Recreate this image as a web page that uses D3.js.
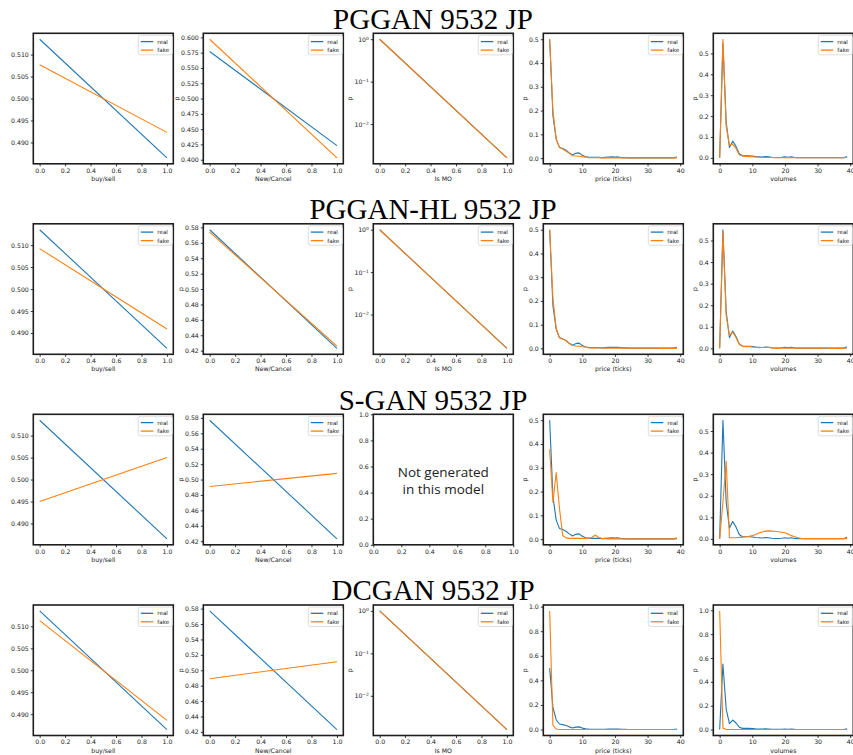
<!DOCTYPE html>
<html>
<head>
<meta charset="utf-8">
<script src="https://cdn.jsdelivr.net/npm/d3@7"></script>
<style>
  body { margin: 0; background: #fff; }
  svg { display: block; }
</style>
</head>
<body>
<div id="viz"></div>
<script>
// ---- data ----
const titles = ["PGGAN 9532 JP", "PGGAN-HL 9532 JP", "S-GAN 9532 JP", "DCGAN 9532 JP"]
const xLabels = ["buy/sell", "New/Cancel", "Is MO", "price (ticks)", "volumes"]
const seriesNames = ["real", "fake"]

const binaryX = [0, 1]
const countX = d3.range(40)

const buySellReal = [0.5135, 0.4865]
const buySellFake = [[0.5077, 0.4923], [0.5092, 0.4909], [0.4950, 0.5050], [0.5113, 0.4886]]

const newCancelReal = [0.577, 0.423]
const newCancelFake = [[0.597, 0.403], [0.574, 0.426], [0.491, 0.508], [0.489, 0.511]]

const isMoReal = [0.998, 0.0016]
const isMoFake = [[0.998, 0.0016], [0.998, 0.0016], null, [0.998, 0.0016]]

const priceReal = [0.500, 0.180, 0.080, 0.045, 0.040, 0.033, 0.022, 0.013, 0.020, 0.022,
                   0.012, 0.006, 0.004, 0.003, 0.003, 0.003, 0.002, 0.003, 0.004, 0.005,
                   0.004, 0.005, 0.002, 0.002, 0.001, 0.001, 0.001, 0.001, 0.001, 0.001,
                   0.001, 0.001, 0.001, 0.001, 0.001, 0.001, 0.001, 0.001, 0.001, 0.005]
const priceFakePGGAN = [0.500, 0.200, 0.080, 0.045, 0.038, 0.030, 0.020, 0.010, 0.009, 0.008,
                        0.006, 0.004, 0.002, 0.002, 0.002, 0.002, 0.001, 0.001, 0.001, 0.001,
                        0.001, 0.001, 0.001, 0.001, 0.001, 0.001, 0.001, 0.001, 0.001, 0.001,
                        0.001, 0.001, 0.001, 0.001, 0.001, 0.001, 0.001, 0.001, 0.001, 0.001]
const priceFakePGGANHL = [0.500, 0.210, 0.085, 0.045, 0.040, 0.032, 0.020, 0.012, 0.010, 0.009,
                          0.007, 0.006, 0.002, 0.002, 0.002, 0.002, 0.002, 0.001, 0.001, 0.001,
                          0.001, 0.001, 0.001, 0.001, 0.001, 0.001, 0.001, 0.001, 0.001, 0.001,
                          0.001, 0.001, 0.001, 0.001, 0.000, 0.000, 0.000, 0.000, 0.000, 0.001]
const priceFakeSGAN = [0.378, 0.154, 0.280, 0.130, 0.015, 0.005, 0.003, 0.003, 0.003, 0.003,
                       0.003, 0.003, 0.004, 0.008, 0.017, 0.007, 0.003, 0.002, 0.001, 0.001,
                       0.001, 0.001, 0.001, 0.001, 0.001, 0.001, 0.001, 0.001, 0.001, 0.001,
                       0.001, 0.001, 0.001, 0.001, 0.001, 0.001, 0.001, 0.001, 0.001, 0.001]
const priceFakeDCGAN = [0.965, 0.035, 0.004, 0.001, 0.001, 0.000, 0.000, 0.000, 0.000, 0.000,
                        0.000, 0.000, 0.000, 0.000, 0.000, 0.000, 0.000, 0.000, 0.000, 0.000,
                        0.000, 0.000, 0.000, 0.000, 0.000, 0.000, 0.000, 0.000, 0.000, 0.000,
                        0.000, 0.000, 0.000, 0.000, 0.000, 0.000, 0.000, 0.000, 0.000, 0.000]

const volumeReal = [0.000, 0.550, 0.170, 0.050, 0.080, 0.055, 0.020, 0.010, 0.010, 0.010,
                    0.009, 0.006, 0.005, 0.004, 0.006, 0.005, 0.003, 0.002, 0.002, 0.003,
                    0.005, 0.003, 0.005, 0.002, 0.001, 0.001, 0.001, 0.001, 0.001, 0.001,
                    0.001, 0.001, 0.001, 0.001, 0.001, 0.001, 0.001, 0.001, 0.001, 0.007]
const volumeFakePGGAN = [0.000, 0.568, 0.150, 0.060, 0.065, 0.045, 0.015, 0.009, 0.007, 0.006,
                         0.005, 0.004, 0.003, 0.002, 0.002, 0.002, 0.002, 0.001, 0.001, 0.001,
                         0.001, 0.001, 0.001, 0.001, 0.001, 0.001, 0.001, 0.001, 0.001, 0.001,
                         0.001, 0.001, 0.001, 0.001, 0.001, 0.001, 0.001, 0.001, 0.001, 0.002]
const volumeFakePGGANHL = [0.000, 0.540, 0.150, 0.060, 0.075, 0.050, 0.020, 0.010, 0.008, 0.008,
                           0.006, 0.005, 0.003, 0.004, 0.004, 0.005, 0.002, 0.001, 0.001, 0.001,
                           0.002, 0.001, 0.001, 0.001, 0.001, 0.001, 0.001, 0.001, 0.001, 0.001,
                           0.001, 0.001, 0.001, 0.001, 0.000, 0.000, 0.000, 0.000, 0.000, 0.002]
const volumeFakeSGAN = [0.000, 0.170, 0.360, 0.005, 0.005, 0.005, 0.007, 0.008, 0.010, 0.012,
                        0.015, 0.020, 0.027, 0.032, 0.036, 0.037, 0.036, 0.035, 0.033, 0.031,
                        0.028, 0.022, 0.015, 0.010, 0.005, 0.002, 0.001, 0.001, 0.001, 0.001,
                        0.001, 0.001, 0.001, 0.001, 0.001, 0.001, 0.001, 0.001, 0.001, 0.001]
const volumeFakeDCGAN = [0.995, 0.012, 0.002, 0.000, 0.000, 0.000, 0.000, 0.000, 0.000, 0.000,
                         0.000, 0.000, 0.000, 0.000, 0.000, 0.000, 0.000, 0.000, 0.000, 0.000,
                         0.000, 0.000, 0.000, 0.000, 0.000, 0.000, 0.000, 0.000, 0.000, 0.000,
                         0.000, 0.000, 0.000, 0.000, 0.000, 0.000, 0.000, 0.000, 0.000, 0.000]
const priceFake = [priceFakePGGAN, priceFakePGGANHL, priceFakeSGAN, priceFakeDCGAN]
const volumeFake = [volumeFakePGGAN, volumeFakePGGANHL, volumeFakeSGAN, volumeFakeDCGAN]

// tick labels
const unitTicks = [0, 0.2, 0.4, 0.6, 0.8, 1.0]
const countTicks = [0, 10, 20, 30, 40]
const buySellTicks = [0.490, 0.495, 0.500, 0.505, 0.510]
const newCancelTicksWide = [0.400, 0.425, 0.450, 0.475, 0.500, 0.525, 0.550, 0.575, 0.600]
const newCancelTicks = [0.42, 0.44, 0.46, 0.48, 0.50, 0.52, 0.54, 0.56, 0.58]
const logTicks = [1, 0.1, 0.01]
const probTicksHalf = [0, 0.1, 0.2, 0.3, 0.4, 0.5]
const probTicksFull = [0, 0.2, 0.4, 0.6, 0.8, 1.0]
const emptyNote = ["Not generated", "in this model"]

// ---- layout ----
const width = 853
const height = 755
const colLeft = [33.3, 203.3, 373.3, 543.3, 713.3]
const rowTop = [33.3, 223.8, 414.3, 605]
const rowTitleY = [28.5, 219, 409.5, 600]
const panelW = 140
const panelH = 130.5
const colors = ["#1f77b4", "#ff7f0e"]
const tickFont = "DejaVu Sans, sans-serif"

const svg = d3.select("#viz").append("svg").attr("width", width).attr("height", height)

const fmt3 = d3.format(".3f"), fmt2 = d3.format(".2f"), fmt1 = d3.format(".1f"), fmt0 = d3.format("d")

function pad(ext, m){
    const d = ext[1] - ext[0]
    return [ext[0] - m * d, ext[1] + m * d]
}

function styleAxis(ax){
    ax.select(".domain").remove()
    ax.selectAll(".tick line").attr("stroke", "#222").attr("stroke-width", 0.9)
    ax.selectAll(".tick text").attr("fill", "#1a1a1a").style("font-family", tickFont).style("font-size", "6.2px")
}

function drawPanel(row, col, cfg){
    const g = svg.append("g").attr("transform", `translate(${colLeft[col]},${rowTop[row]})`)
    let x, y
    if (cfg.empty) {
        x = d3.scaleLinear().domain([0, 1]).range([0, panelW])
        y = d3.scaleLinear().domain([0, 1]).range([panelH, 0])
    } else {
        x = d3.scaleLinear().domain(pad(d3.extent(cfg.xValues), 0.05)).range([0, panelW])
        const all = cfg.series.flatMap(s => s.values)
        if (cfg.log) {
            const e = pad(d3.extent(all, v => Math.log10(v)), 0.05)
            y = d3.scaleLog().domain([10 ** e[0], 10 ** e[1]]).range([panelH, 0])
        } else {
            y = d3.scaleLinear().domain(pad(d3.extent(all), 0.05)).range([panelH, 0])
        }
    }

    // data lines
    if (!cfg.empty) {
        cfg.series.forEach((s, i) => {
            const line = d3.line().x((d, j) => x(cfg.xValues[j])).y(d => y(d))
            g.append("path")
                .attr("d", line(s.values))
                .attr("fill", "none")
                .attr("stroke", colors[i])
                .attr("stroke-width", 1.1)
                .attr("stroke-linejoin", "round")
        })
    } else {
        const t = g.append("text")
            .attr("x", x(0.5)).attr("y", y(0.5))
            .attr("text-anchor", "middle")
            .style("font-family", "Open Sans, sans-serif").style("font-size", "13.5px").attr("fill", "#222")
        emptyNote.forEach((line, i) => {
            t.append("tspan").attr("x", x(0.5)).attr("dy", i === 0 ? "-0.2em" : "1.25em").text(line)
        })
    }

    // axes
    const xAxis = g.append("g").attr("transform", `translate(0,${panelH})`)
        .call(d3.axisBottom(x).tickValues(cfg.xTicks).tickFormat(cfg.xFormat).tickSize(2.5).tickPadding(2))
    styleAxis(xAxis)

    const yAxis = g.append("g")
    if (cfg.log) {
        const minor = []
        for (let p = -4; p <= 0; p++) for (let k = 2; k <= 9; k++) {
            const v = k * 10 ** p
            if (v > y.domain()[0] && v < y.domain()[1]) minor.push(v)
        }
        yAxis.append("g").call(d3.axisLeft(y).tickValues(minor).tickFormat("").tickSize(1.5))
        yAxis.call(d3.axisLeft(y).tickValues(cfg.yTicks).tickSize(2.5).tickPadding(2))
        yAxis.selectAll(".domain").remove()
        yAxis.selectAll(".tick text").text(null).each(function(d){
            const el = d3.select(this)
            el.append("tspan").text("10")
            const ex = Math.round(Math.log10(d))
            el.append("tspan").attr("dy", "-0.45em").style("font-size", "4.4px")
                .text(ex < 0 ? "\u2212" + (-ex) : ex)
        })
        styleAxis(yAxis)
    } else {
        yAxis.call(d3.axisLeft(y).tickValues(cfg.yTicks).tickFormat(cfg.yFormat).tickSize(2.5).tickPadding(2))
        styleAxis(yAxis)
    }

    // frame
    g.append("rect").attr("width", panelW).attr("height", panelH)
        .attr("fill", "none").attr("stroke", "#1e1e1e").attr("stroke-width", 1.6)

    // axis labels
    if (cfg.xLabel) {
        g.append("text").attr("x", panelW / 2).attr("y", panelH + 17.2)
            .attr("text-anchor", "middle").attr("fill", "#1a1a1a")
            .style("font-family", tickFont).style("font-size", "6.2px")
            .text(cfg.xLabel)
    }
    if (cfg.yLabel) {
        const bx = yAxis.node().getBBox().x
        g.append("text").attr("transform", `translate(${bx - 2},${panelH / 2}) rotate(-90)`)
            .attr("text-anchor", "middle").attr("fill", "#1a1a1a")
            .style("font-family", tickFont).style("font-size", "6.2px")
            .text(cfg.yLabel)
    }

    // legend
    if (!cfg.empty) {
        const lg = g.append("g").attr("transform", `translate(${panelW - 35},2)`)
        lg.append("rect").attr("width", 34).attr("height", 19.5).attr("rx", 2)
            .attr("fill", "#fff").attr("fill-opacity", 0.8)
            .attr("stroke", "#d4d4d4").attr("stroke-width", 0.8)
        seriesNames.forEach((name, i) => {
            const ly = 6.3 + i * 8.5
            lg.append("line").attr("x1", 2.5).attr("x2", 15).attr("y1", ly).attr("y2", ly)
                .attr("stroke", colors[i]).attr("stroke-width", 1.3)
            lg.append("text").attr("x", 19).attr("y", ly).attr("dy", "0.35em")
                .attr("fill", "#1a1a1a").style("font-family", tickFont).style("font-size", "5.6px")
                .text(name)
        })
    }
}

titles.forEach((title, r) => {
    svg.append("text").attr("x", 433).attr("y", rowTitleY[r])
        .attr("text-anchor", "middle").attr("fill", "#000")
        .style("font-family", "Liberation Serif, Times New Roman, serif").style("font-size", "29px")
        .text(title)

    drawPanel(r, 0, {
        xValues: binaryX, series: [{values: buySellReal}, {values: buySellFake[r]}],
        xTicks: unitTicks, xFormat: fmt1, yTicks: buySellTicks, yFormat: fmt3, xLabel: xLabels[0]
    })
    drawPanel(r, 1, {
        xValues: binaryX, series: [{values: newCancelReal}, {values: newCancelFake[r]}],
        xTicks: unitTicks, xFormat: fmt1,
        yTicks: r === 0 ? newCancelTicksWide : newCancelTicks, yFormat: r === 0 ? fmt3 : fmt2,
        xLabel: xLabels[1], yLabel: "p"
    })
    if (isMoFake[r]) {
        drawPanel(r, 2, {
            xValues: binaryX, series: [{values: isMoReal}, {values: isMoFake[r]}], log: true,
            xTicks: unitTicks, xFormat: fmt1, yTicks: logTicks, xLabel: xLabels[2], yLabel: "p"
        })
    } else {
        drawPanel(r, 2, {empty: true, xTicks: unitTicks, xFormat: fmt1, yTicks: unitTicks, yFormat: fmt1})
    }
    const priceMax = d3.max(priceFake[r].concat(priceReal))
    drawPanel(r, 3, {
        xValues: countX, series: [{values: priceReal}, {values: priceFake[r]}],
        xTicks: countTicks, xFormat: fmt0, yTicks: priceMax > 0.6 ? probTicksFull : probTicksHalf, yFormat: fmt1,
        xLabel: xLabels[3], yLabel: "p"
    })
    const volMax = d3.max(volumeFake[r].concat(volumeReal))
    drawPanel(r, 4, {
        xValues: countX, series: [{values: volumeReal}, {values: volumeFake[r]}],
        xTicks: countTicks, xFormat: fmt0, yTicks: volMax > 0.6 ? probTicksFull : probTicksHalf, yFormat: fmt1,
        xLabel: xLabels[4], yLabel: "p"
    })
})
</script>
</body>
</html>
